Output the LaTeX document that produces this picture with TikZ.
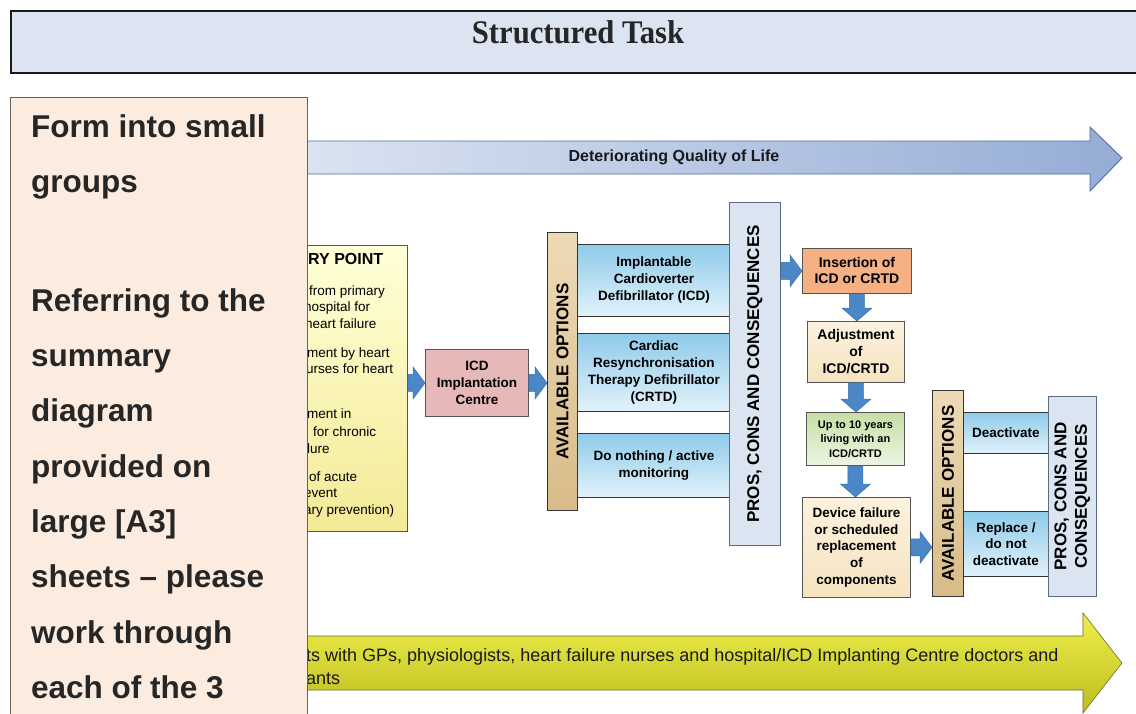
\documentclass[tikz,border=0pt]{standalone}
\usepackage{fontspec}
\setmainfont{Liberation Sans}
\newfontfamily\titlefont[FakeStretch=0.93]{Liberation Serif}
\usetikzlibrary{calc}
\definecolor{titlefill}{HTML}{DCE4F1}
\definecolor{titleline}{HTML}{1A1A1A}
\definecolor{ovfill}{HTML}{FCEBDF}
\definecolor{ovline}{HTML}{6E5F57}
\definecolor{qolL}{HTML}{E3EAF4}
\definecolor{qolR}{HTML}{95ACD6}
\definecolor{qolline}{HTML}{4F6FA0}
\definecolor{ylwT}{HTML}{EEF04A}
\definecolor{ylwB}{HTML}{BDBD20}
\definecolor{ylwline}{HTML}{6B6B2A}
\definecolor{entT}{HTML}{FFFFD8}
\definecolor{entB}{HTML}{F3EA96}
\definecolor{icdfill}{HTML}{E6B8B7}
\definecolor{optT}{HTML}{8FCBEA}
\definecolor{optB}{HTML}{E2F2FB}
\definecolor{tanT}{HTML}{EDDAB6}
\definecolor{tanB}{HTML}{D8BB88}
\definecolor{pccfill}{HTML}{DAE5F1}
\definecolor{pccline}{HTML}{5D6B7E}
\definecolor{insfill}{HTML}{F5B183}
\definecolor{begT}{HTML}{FCF2DE}
\definecolor{begB}{HTML}{F6E3C0}
\definecolor{grnT}{HTML}{C5DFA5}
\definecolor{grnB}{HTML}{EDF5E2}
\definecolor{arrowblue}{HTML}{4B87C6}
\definecolor{arrowedge}{HTML}{3A6EA5}
\definecolor{boxline}{HTML}{555555}
\newcommand{\blockright}[3]{%
  \path[blockarrow] let \p1=(#1.east), \p2=(#2.west), \p3=(#3.center) in
  (\x1,\y3-8.5) -- (\x2-12,\y3-8.5) -- (\x2-12,\y3-16) -- (\x2,\y3) --
  (\x2-12,\y3+16) -- (\x2-12,\y3+8.5) -- (\x1,\y3+8.5) -- cycle;}
\newcommand{\blockdown}[3]{%
  \path[blockarrow] let \p1=(#1.south), \p2=(#2.north), \p3=(#3.center) in
  (\x3-7.5,\y1) -- (\x3-7.5,\y2+13) -- (\x3-15,\y2+13) -- (\x3,\y2) --
  (\x3+15,\y2+13) -- (\x3+7.5,\y2+13) -- (\x3+7.5,\y1) -- cycle;}
\begin{document}
\begin{tikzpicture}[x=1pt,y=-1pt,
  box/.style={draw=boxline, line width=0.9pt, inner sep=0pt, align=center,
    font=\bfseries\fontsize{13.5}{17}\selectfont, anchor=north west},
  sz/.style 2 args={minimum width=#1pt, minimum height=#2pt},
  optbox/.style={box, draw=black!80, top color=optT, bottom color=optB},
  tanbar/.style={box, draw=black!80, top color=tanT, bottom color=tanB},
  pccbar/.style={box, draw=pccline, fill=pccfill},
  begebox/.style={box, top color=begT, bottom color=begB},
  vtext/.style={rotate=90, font=\bfseries\fontsize{17}{21}\selectfont, align=center},
  frag/.style={anchor=base west, inner sep=0pt, font=\fontsize{13.5}{16}\selectfont},
  ovtext/.style={anchor=base west, inner sep=0pt, font=\bfseries\fontsize{31.5}{36}\selectfont, text=black!85},
  blockarrow/.style={fill=arrowblue, draw=arrowedge, line width=0.5pt}
]
\useasboundingbox (0,0) rectangle (1136,713);
\clip (0,0) rectangle (1136,713);

% title
\node[draw=titleline, line width=1.6pt, fill=titlefill, anchor=north west,
  minimum width=1150pt, minimum height=62pt, inner sep=0pt] (titlebox) at (10,10) {};
\node[anchor=base, inner sep=0pt, font=\titlefont\bfseries\fontsize{33}{38}\selectfont, text=black!85]
  (title) at (578,43) {Structured Task};

% top arrow
\path[draw=qolline, line width=0.9pt, left color=qolL, right color=qolR]
  (200,141) -- (1090,141) -- (1090,127) -- (1122,158) -- (1090,191) -- (1090,174) -- (200,174) -- cycle;
\node[anchor=base, inner sep=0pt, font=\bfseries\fontsize{16}{19}\selectfont, text=black!90] (qol) at (674,161.5) {Deteriorating Quality of Life};

% bottom yellow arrow
\path[draw=ylwline, line width=0.6pt, top color=ylwT, bottom color=ylwB]
  (200,636) -- (1083,636) -- (1083,613) -- (1122,663) -- (1083,713) -- (1083,690) -- (200,690) -- cycle;
\node[anchor=base west, inner sep=0pt, font=\fontsize{18}{21}\selectfont, text=black!90] (yl1) at (306,661)
  {ts with GPs, physiologists, heart failure nurses and hospital/ICD Implanting Centre doctors and};
\node[anchor=base west, inner sep=0pt, font=\fontsize{18}{21}\selectfont, text=black!90] (yl2) at (306,684) {ants};

% entry box
\node[box, sz={257}{286}, top color=entT, bottom color=entB] (entry) at (150,245) {};
\node[frag, font=\bfseries\fontsize{16}{18}\selectfont] (e0) at (308,264) {RY POINT};
\node[frag] (e1) at (309,295) {from primary};
\node[frag] (e2) at (304,311) {hospital for};
\node[frag] (e3) at (305,328) {heart failure};
\node[frag] (e4) at (307,357) {ment by heart};
\node[frag] (e5) at (306,373) {urses for heart};
\node[frag] (e6) at (307,418) {ment in};
\node[frag] (e7) at (313,436) {for chronic};
\node[frag] (e8) at (307,453) {lure};
\node[frag] (e9) at (309,481) {of acute};
\node[frag] (e10) at (304,497) {event};
\node[frag] (e11) at (304,514) {ary prevention)};

% ICD centre
\node[box, sz={103}{67}, fill=icdfill] (icd) at (425,349) {ICD\\Implantation\\Centre};

% options 1
\node[optbox, sz={153}{72}] (opt1) at (577,244) {Implantable\\Cardioverter\\Defibrillator (ICD)};
\node[optbox, sz={153}{78}] (opt2) at (577,333) {Cardiac\\Resynchronisation\\Therapy Defibrillator\\(CRTD)};
\node[optbox, sz={153}{64}] (opt3) at (577,433) {Do nothing / active\\monitoring};
\node[tanbar, sz={30}{278}] (ao1) at (547,232) {};
\node[vtext] (ao1t) at (ao1.center) {AVAILABLE OPTIONS};
\node[pccbar, sz={51}{343}] (pcc1) at (729,202) {};
\node[vtext] (pcc1t) at (pcc1.center) {PROS, CONS AND CONSEQUENCES};

% right column
\node[box, sz={109}{45}, fill=insfill, font=\bfseries\fontsize{14}{16}\selectfont] (ins) at (802,248) {Insertion of\\ICD or CRTD};
\node[begebox, sz={97}{61}, font=\bfseries\fontsize{14}{17}\selectfont] (adj) at (807,321) {Adjustment\\of\\ICD/CRTD};
\node[box, sz={98}{53}, top color=grnT, bottom color=grnB, font=\bfseries\fontsize{11}{14.5}\selectfont] (grn) at (806,412) {Up to 10 years\\living with an\\ICD/CRTD};
\node[begebox, sz={108}{100}, font=\bfseries\fontsize{13.5}{16.7}\selectfont] (dev) at (802,497) {Device failure\\or scheduled\\replacement\\of\\components};

% options 2
\node[optbox, sz={85}{41}] (deact) at (963,412) {Deactivate};
\node[optbox, sz={85}{65}, font=\bfseries\fontsize{13.5}{16.5}\selectfont] (repl) at (963,511) {Replace /\\do not\\deactivate};
\node[tanbar, sz={31}{206}] (ao2) at (932,390) {};
\node[vtext] (ao2t) at (ao2.center) {AVAILABLE OPTIONS};
\node[pccbar, sz={48}{200}] (pcc2) at (1048,396) {};
\node[vtext, font=\bfseries\fontsize{17}{20.5}\selectfont] (pcc2t) at (pcc2.center) {PROS, CONS AND\\CONSEQUENCES};

% block arrows
\blockright{entry}{icd}{icd}
\blockright{icd}{ao1}{icd}
\blockright{pcc1}{ins}{ins}
\blockright{dev}{ao2}{dev}
\blockdown{ins}{adj}{ins}
\blockdown{adj}{grn}{adj}
\blockdown{grn}{dev}{grn}

% overlay task box
\node[draw=ovline, line width=1pt, fill=ovfill, anchor=north west,
  minimum width=297pt, minimum height=640pt, inner sep=0pt] (task) at (10,97) {};
\node[ovtext] (t1) at (31,137) {Form into small};
\node[ovtext] (t2) at (31,192) {groups};
\node[ovtext] (t3) at (31,311) {Referring to the};
\node[ovtext] (t4) at (31,366) {summary};
\node[ovtext] (t5) at (31,421) {diagram};
\node[ovtext] (t6) at (31,477) {provided on};
\node[ovtext] (t7) at (31,532) {large [A3]};
\node[ovtext] (t8) at (31,587) {sheets – please};
\node[ovtext] (t9) at (31,643) {work through};
\node[ovtext] (t10) at (31,698) {each of the 3};
\end{tikzpicture}
\end{document}
